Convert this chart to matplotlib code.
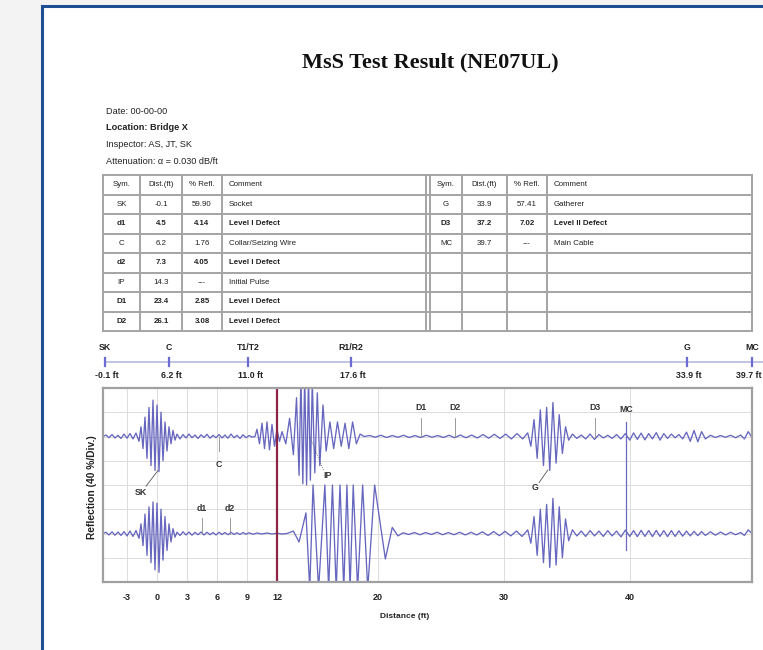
import numpy as np
import matplotlib
matplotlib.use("Agg")
import matplotlib.pyplot as plt
from matplotlib.patches import Rectangle

# ---- report header ----
title = "MsS Test Result (NE07UL)"
header_lines = ["Date: 00-00-00", "Location: Bridge X", "Inspector: AS, JT, SK",
                "Attenuation: \u03b1 = 0.030 dB/ft"]
header_bold = [False, True, False, False]

# ---- result table ----
col_names = ["Sym.", "Dist.(ft)", "% Refl.", "Comment"]
sym_left = ["SK", "d1", "C", "d2", "IP", "D1", "D2"]
dist_left = ["-0.1", "4.5", "6.2", "7.3", "14.3", "23.4", "26.1"]
refl_left = ["59.90", "4.14", "1.76", "4.05", "---", "2.85", "3.08"]
comment_left = ["Socket", "Level I Defect", "Collar/Seizing Wire", "Level I Defect",
                "Initial Pulse", "Level I Defect", "Level I Defect"]
bold_left = [False, True, False, True, False, True, True]

sym_right = ["G", "D3", "MC"]
dist_right = ["33.9", "37.2", "39.7"]
refl_right = ["57.41", "7.02", "---"]
comment_right = ["Gatherer", "Level II Defect", "Main Cable"]
bold_right = [False, True, False]

# ---- feature strip above the plot ----
feature_names = ["SK", "C", "T1/T2", "R1/R2", "G", "MC"]
feature_dists = ["-0.1 ft", "6.2 ft", "11.0 ft", "17.6 ft", "33.9 ft", "39.7 ft"]

# ---- signal traces (distance ft, reflection in divisions) ----
top_trace = [
    (-5.4, 2.0), (-5.1, 2.06), (-4.8, 1.95), (-4.5, 2.08), (-4.2, 1.94), (-3.9, 2.05),
    (-3.6, 1.92), (-3.3, 2.1), (-3.0, 1.93), (-2.7, 2.12), (-2.4, 1.9), (-2.1, 2.14),
    (-1.8, 1.8), (-1.6, 2.4), (-1.4, 1.5), (-1.2, 2.8), (-1.0, 1.1), (-0.8, 3.2),
    (-0.6, 0.8), (-0.4, 3.5), (-0.2, 0.6), (0.0, 3.3), (0.2, 0.55), (0.4, 3.0),
    (0.6, 1.0), (0.8, 2.6), (1.0, 1.4), (1.2, 2.4), (1.4, 1.7), (1.6, 2.25),
    (1.8, 1.85), (2.0, 2.1),
    (2.3, 1.9), (2.6, 2.08), (2.9, 1.94), (3.2, 2.1), (3.5, 1.95), (3.8, 2.06),
    (4.1, 1.92), (4.4, 2.07), (4.7, 1.96), (5.0, 2.09), (5.3, 1.93), (5.6, 2.05),
    (5.9, 1.95), (6.2, 2.08), (6.5, 1.94), (6.8, 2.06), (7.1, 1.93), (7.4, 2.1),
    (7.7, 1.95), (8.0, 2.05), (8.3, 1.92), (8.6, 2.07), (8.9, 1.95), (9.2, 2.04),
    (9.5, 1.98),
    (9.8, 2.0), (10.0, 2.3), (10.25, 1.7), (10.5, 2.55), (10.75, 1.5), (11.0, 2.6),
    (11.25, 1.45), (11.5, 2.5), (11.75, 1.6), (12.0, 2.3), (12.2, 1.8),
    (12.4, 2.2), (12.7, 1.7), (13.0, 2.75), (13.3, 1.25), (13.55, 3.6), (13.75, 0.4),
    (13.9, 4.5), (14.05, 0.05), (14.2, 4.5), (14.35, 0.0), (14.5, 4.5), (14.65, 0.2),
    (14.8, 4.3), (15.0, 0.5), (15.2, 3.8), (15.4, 0.8), (15.65, 3.3), (15.9, 1.4),
    (16.2, 2.6), (16.5, 1.5), (16.8, 2.6), (17.1, 1.6), (17.4, 2.55), (17.7, 1.5),
    (18.0, 2.6), (18.3, 1.7), (18.6, 2.1),
    (18.9, 2.0), (19.35, 2.04), (19.8, 1.97), (20.25, 2.05), (20.7, 1.96), (21.15, 2.04),
    (21.6, 1.97), (22.05, 2.05), (22.5, 1.96), (22.95, 2.04), (23.4, 1.96), (23.85, 2.05),
    (24.3, 1.97), (24.75, 2.04), (25.2, 1.96), (25.65, 2.05), (26.1, 1.95), (26.55, 2.06),
    (27.0, 1.95), (27.45, 2.06), (27.9, 1.94), (28.35, 2.08), (28.8, 1.93), (29.25, 2.09),
    (29.7, 1.92), (30.15, 2.1), (30.6, 1.9), (31.05, 2.12), (31.5, 1.9),
    (31.9, 2.15), (32.15, 1.6), (32.4, 2.7), (32.65, 1.1), (32.9, 3.1), (33.15, 0.8),
    (33.4, 3.2), (33.65, 0.6), (33.9, 3.4), (34.15, 0.9), (34.4, 2.9), (34.65, 1.3),
    (34.9, 2.4), (35.15, 1.85),
    (35.45, 2.1), (35.8, 1.92), (36.15, 2.06), (36.5, 1.9), (36.85, 2.1), (37.2, 1.88),
    (37.55, 2.08), (37.9, 1.94), (38.25, 2.05), (38.6, 1.92), (38.95, 2.08), (39.3, 1.9),
    (39.65, 2.12), (40.0, 1.85), (40.3, 2.15), (40.6, 1.88), (40.9, 2.14), (41.2, 1.86),
    (41.5, 2.12), (41.8, 1.9), (42.1, 2.16), (42.4, 1.85), (42.7, 2.12), (43.0, 1.92),
    (43.3, 2.1), (43.6, 1.95), (43.9, 2.08), (44.2, 1.9), (44.5, 2.18), (44.8, 1.8),
    (45.1, 2.25), (45.4, 1.78), (45.7, 2.2), (46.0, 1.9), (46.4, 2.05), (46.8, 1.96),
    (47.2, 2.04), (47.6, 1.97), (48.0, 2.05), (48.4, 1.95), (48.8, 2.06), (49.1, 1.9),
    (49.4, 2.2), (49.7, 1.95),
]

bottom_trace = [
    (-5.4, -2.0), (-5.1, -1.95), (-4.8, -2.06), (-4.5, -1.93), (-4.2, -2.07), (-3.9, -1.94),
    (-3.6, -2.08), (-3.3, -1.92), (-3.0, -2.1), (-2.7, -1.9), (-2.4, -2.12), (-2.1, -1.88),
    (-1.8, -2.2), (-1.6, -1.6), (-1.4, -2.5), (-1.2, -1.2), (-1.0, -2.9), (-0.8, -0.9),
    (-0.6, -3.2), (-0.4, -0.7), (-0.2, -3.5), (0.0, -0.75), (0.2, -3.6), (0.4, -1.0),
    (0.6, -3.1), (0.8, -1.3), (1.0, -2.7), (1.2, -1.6), (1.4, -2.35), (1.6, -1.8),
    (1.8, -2.15), (2.0, -1.95),
    (2.3, -2.08), (2.6, -1.93), (2.9, -2.06), (3.2, -1.94), (3.5, -2.07), (3.8, -1.95),
    (4.1, -2.05), (4.4, -1.94), (4.7, -2.06), (5.0, -1.95), (5.3, -2.05), (5.6, -1.96),
    (5.9, -2.06), (6.2, -1.95), (6.5, -2.04), (6.8, -1.96), (7.1, -2.05), (7.4, -1.95),
    (7.7, -2.04), (8.0, -1.97), (8.3, -2.04), (8.6, -1.96), (8.9, -2.03), (9.2, -1.97),
    (9.6, -2.03), (10.0, -1.98), (10.5, -2.02), (11.0, -1.98), (11.5, -2.02), (12.0, -1.99),
    (12.4, -2.02), (12.8, -2.0), (13.3, -1.9), (13.75, -2.35), (14.3, -1.15), (14.6, -4.3),
    (14.86, 0.0), (15.3, -4.3), (15.8, 0.0), (16.1, -4.3), (16.4, 0.0), (16.7, -4.3),
    (17.0, 0.0), (17.3, -4.3), (17.55, 0.0), (17.8, -4.3), (18.05, 0.0), (18.4, -4.3),
    (18.8, 0.0), (19.2, -4.3), (19.75, 0.0), (20.6, -3.05), (21.15, -1.75), (21.6, -2.1),
    (22.0, -1.97), (22.45, -2.04), (22.9, -1.96), (23.35, -2.05), (23.8, -1.96), (24.25, -2.04),
    (24.7, -1.95), (25.15, -2.05), (25.6, -1.96), (26.05, -2.05), (26.5, -1.95), (26.95, -2.06),
    (27.4, -1.95), (27.85, -2.06), (28.3, -1.93), (28.75, -2.08), (29.2, -1.92), (29.65, -2.09),
    (30.1, -1.91), (30.55, -2.1), (31.0, -1.9), (31.45, -2.12),
    (31.9, -1.85), (32.15, -2.4), (32.4, -1.3), (32.65, -2.9), (32.9, -1.0), (33.15, -3.2),
    (33.4, -0.8), (33.65, -3.4), (33.9, -0.55), (34.15, -3.3), (34.4, -0.9), (34.65, -3.0),
    (34.9, -1.4), (35.15, -2.3),
    (35.45, -1.85), (35.8, -2.1), (36.15, -1.9), (36.5, -2.12), (36.85, -1.88), (37.2, -2.1),
    (37.55, -1.9), (37.9, -2.12), (38.25, -1.88), (38.6, -2.1), (38.95, -1.9), (39.3, -2.14),
    (39.65, -1.86), (40.0, -2.12), (40.3, -1.88), (40.6, -2.13), (40.9, -1.87), (41.2, -2.12),
    (41.5, -1.88), (41.8, -2.13), (42.1, -1.87), (42.4, -2.12), (42.7, -1.88), (43.0, -2.13),
    (43.3, -1.88), (43.6, -2.12), (43.9, -1.89), (44.2, -2.11), (44.5, -1.9), (44.8, -2.1),
    (45.1, -1.91), (45.4, -2.09), (45.7, -1.92), (46.0, -2.08), (46.4, -1.93), (46.8, -2.07),
    (47.2, -1.94), (47.6, -2.06), (48.0, -1.95), (48.4, -2.05), (48.8, -1.96), (49.1, -2.08),
    (49.4, -1.85), (49.7, -2.0),
]

# feature call-outs on the traces: (label, distance)
callouts_top = [("D1", 23.4), ("D2", 26.1), ("D3", 37.2)]
callouts_bottom = [("d1", 4.5), ("d2", 7.3)]
mc_dist = 39.7
c_dist = 6.2
cursor_dist = 12.0

x_ticks = [-3, 0, 3, 6, 9, 12, 20, 30, 40]

# ---------------------------------------------------------------
W, H = 763, 650
fig = plt.figure(figsize=(W / 100, H / 100), dpi=100)
fig.patch.set_facecolor("#f3f3f3")
plt.rcParams["font.family"] = ["Liberation Sans", "DejaVu Sans"]

# page layer in pixel coordinates
page = fig.add_axes([0, 0, 1, 1])
page.set_xlim(0, W)
page.set_ylim(H, 0)
page.axis("off")
page.add_patch(Rectangle((42, 6), 900, 800, facecolor="white", edgecolor="#1f4f93", lw=2.2))

txt = "#222222"
page.text(430, 62, title, ha="center", va="center", family="Liberation Serif",
          weight="bold", size=16, color="#111111")

for i, line in enumerate(header_lines):
    page.text(106, 111 + i * 16.7, line, ha="left", va="center", size=6.6,
              weight="bold" if header_bold[i] else "normal", color=txt)

# table grid
t_top, row_h, n_rows = 175, 19.5, 8
grid_col = "#a4a4a4"
left_cols = [103, 140, 182, 222]
right_cols = [430, 462, 507, 547]
t_left, t_right = 103, 752
t_bot = t_top + row_h * n_rows
for r in range(n_rows + 1):
    page.plot([t_left, t_right], [t_top + r * row_h] * 2, color=grid_col, lw=1.4)
for xc in left_cols + right_cols + [426, t_right]:
    page.plot([xc, xc], [t_top, t_bot], color=grid_col, lw=1.4)

cell_size = 5.7

def fill_table(cols, cells, bolds):
    centers = [(cols[0] + cols[1]) / 2, (cols[1] + cols[2]) / 2, (cols[2] + cols[3]) / 2]
    for j, name in enumerate(col_names):
        yy = t_top + row_h / 2
        if j < 3:
            page.text(centers[j], yy, name, ha="center", va="center", size=cell_size, color=txt)
        else:
            page.text(cols[3] + 7, yy, name, ha="left", va="center", size=cell_size, color=txt)
    for i, row in enumerate(cells):
        yy = t_top + row_h * (i + 1.5)
        w = "bold" if bolds[i] else "normal"
        for j, val in enumerate(row):
            if j < 3:
                page.text(centers[j], yy, val, ha="center", va="center", size=cell_size,
                          weight=w, color=txt)
            else:
                page.text(cols[3] + 7, yy, val, ha="left", va="center", size=cell_size,
                          weight=w, color=txt)

fill_table(left_cols, list(zip(sym_left, dist_left, refl_left, comment_left)), bold_left)
fill_table(right_cols, list(zip(sym_right, dist_right, refl_right, comment_right)), bold_right)

# feature strip (schematic positions)
strip_px = [105, 169, 248, 351, 687, 752]
page.plot([105, 770], [362, 362], color="#b9b9e0", lw=1.2)
for k, (name, dist, px) in enumerate(zip(feature_names, feature_dists, strip_px)):
    page.plot([px, px], [358, 366], color="#6a6ad0", lw=1.6)
    page.text(px, 347, name, ha="center", va="center", size=6.3, weight="bold", color=txt)
    if k == len(strip_px) - 1:
        # last value sits at the page edge
        page.text(762, 376, dist, ha="right", va="center", size=6.3, weight="bold", color=txt)
    else:
        page.text(px + 2, 376, dist, ha="center", va="center", size=6.3, weight="bold", color=txt)

# ---- signal plot ----
def fwd(x):
    x = np.asarray(x, float)
    return np.where(x <= 12, x * 10.0, 120.0 + (x - 12) * 12.6)

def inv(p):
    p = np.asarray(p, float)
    return np.where(p <= 120, p / 10.0, 12 + (p - 120) / 12.6)

ax = fig.add_axes([103 / W, (H - 582) / H, 649 / W, 194 / H])
ax.set_xscale("function", functions=(fwd, inv))
ax.set_xlim(-5.4, 49.7)
ax.set_ylim(-4, 4)
ax.set_xticks(x_ticks)
ax.set_xticklabels([str(t) for t in x_ticks])
ax.set_yticks(np.arange(-3, 4))
ax.set_yticklabels([])
ax.tick_params(length=0, labelsize=6.5, labelcolor=txt, pad=8)
for lab in ax.get_xticklabels():
    lab.set_fontweight("bold")
ax.grid(True, color="#dcdcdc", lw=0.7)
for s in ax.spines.values():
    s.set_color("#a0a0a0")
    s.set_linewidth(1.6)

wave_col = "#5656b8"
tx, ty = zip(*top_trace)
bx, by = zip(*bottom_trace)
ax.plot(tx, ty, color=wave_col, lw=0.95, alpha=0.9)
ax.plot(bx, by, color=wave_col, lw=0.95, alpha=0.9)

ax.axvline(cursor_dist, color="#8c2444", lw=1.6)
ax.plot([mc_dist, mc_dist], [2.6, -2.7], color="#6a6ac0", lw=0.9)

lab_kw = dict(ha="center", va="center", size=6.3, weight="bold", color="#333333")
for name, d in callouts_top:
    ax.plot([d, d], [2.0, 2.75], color="#8a8a8a", lw=0.6)
    ax.text(d, 3.2, name, **lab_kw)
ax.text(mc_dist, 3.1, "MC", **lab_kw)
for name, d in callouts_bottom:
    ax.plot([d, d], [-2.0, -1.35], color="#8a8a8a", lw=0.6)
    ax.text(d, -0.95, name, **lab_kw)
ax.plot([c_dist, c_dist], [2.0, 1.4], color="#8a8a8a", lw=0.6)
ax.text(c_dist, 0.85, "C", **lab_kw)

ax.plot([0.1, -1.1], [0.6, -0.05], color="#555555", lw=0.6)
ax.text(-1.6, -0.3, "SK", **lab_kw)
ax.plot([14.6, 15.7], [2.0, 0.6], color="#555555", lw=0.6, ls=":")
ax.text(16.0, 0.4, "IP", **lab_kw)
ax.plot([33.5, 32.8], [0.62, 0.1], color="#555555", lw=0.6)
ax.text(32.5, -0.12, "G", **lab_kw)

page.text(92, 487, "Reflection (40 %/Div.)", rotation=90, ha="center", va="center",
          size=7.4, weight="bold", color=txt)
page.text(405, 617, "Distance (ft)", ha="center", va="center", size=6,
          weight="bold", color=txt)

fig.savefig("out.png", dpi=100, facecolor=fig.get_facecolor())
